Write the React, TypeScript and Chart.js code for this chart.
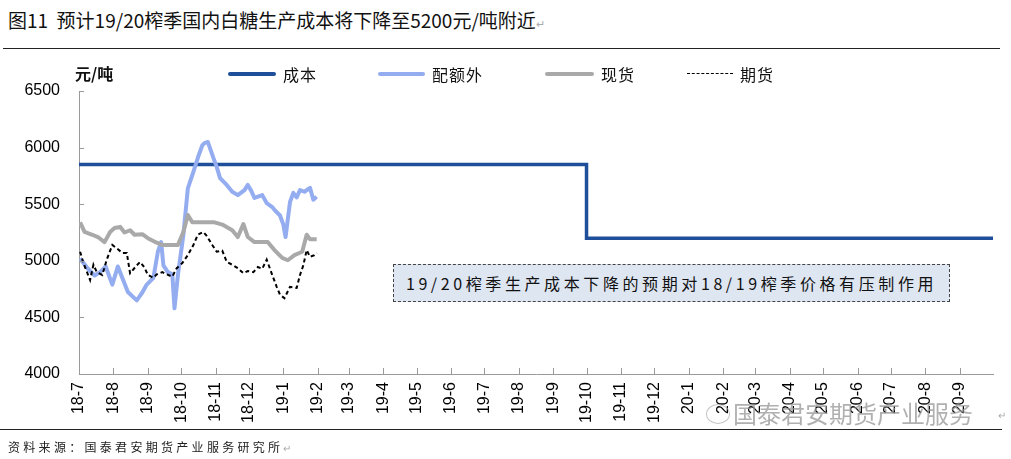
import React, { useEffect, useRef } from 'react';
import { Chart, registerables } from 'chart.js';

Chart.register(...registerables);

// Month tick labels (yy-m), axis runs to the start of 20-10
const tickLabels = ['18-7','18-8','18-9','18-10','18-11','18-12','19-1','19-2','19-3','19-4','19-5','19-6','19-7','19-8','19-9','19-10','19-11','19-12','20-1','20-2','20-3','20-4','20-5','20-6','20-7','20-8','20-9'];
const axisStartLabel = '18-7';
const axisEndLabel = '20-10';
const yMin = 4000;
const yMax = 6500;
const yStep = 500;

// 成本 (production cost) – step line
const costMonths = ['18-7', '19-10', '19-10', '20-10'];
const costValues = [5850, 5850, 5200, 5200];

// 配额外 – days since 2018-07-01
const quotaDays = [1,8,14,19,24,30,35,44,52,57,61,67,71,74,76,80,84,86,89,94,98,103,107,111,113,116,121,124,127,133,138,143,149,152,155,158,165,169,174,176,181,184,186,190,193,196,199,203,208,211,214];
const quotaValues = [5020,4930,4870,4900,4950,4790,4950,4725,4650,4720,4790,4850,5080,5165,4960,4900,4880,4580,4870,5230,5640,5785,5910,6020,6040,6050,5910,5830,5730,5670,5610,5580,5625,5670,5620,5555,5580,5510,5475,5450,5400,5320,5210,5520,5600,5560,5625,5610,5645,5540,5565];

// 现货
const spotDays = [1,5,12,17,23,28,32,37,41,46,50,57,62,70,75,82,89,94,98,102,113,122,129,138,143,148,152,158,170,176,183,188,194,201,205,208,214];
const spotValues = [5340,5255,5230,5210,5165,5255,5290,5300,5250,5270,5230,5235,5200,5160,5140,5140,5140,5255,5405,5340,5340,5340,5320,5270,5210,5325,5210,5165,5165,5095,5025,5005,5050,5080,5230,5190,5190];

// 期货
const futDays = [1,4,10,13,16,21,25,30,34,39,43,46,52,55,59,62,67,70,75,79,84,88,93,98,103,107,112,115,120,124,129,133,138,143,148,152,157,161,165,169,174,178,181,185,190,196,199,202,205,208,212,214];
const futValues = [5080,4980,4830,4965,4900,4875,5010,5140,5110,5070,5070,4890,4960,4990,4940,4875,4850,4880,4900,4880,4860,4935,4980,5050,5140,5230,5255,5220,5140,5080,5090,4990,4965,4935,4890,4910,4900,4945,4930,5010,4875,4770,4700,4670,4770,4760,4875,4960,5095,5035,5050,5070];

const baseUTC = (() => {
  const [yy, mm] = axisStartLabel.split('-').map(Number);
  return Date.UTC(2000 + yy, mm - 1, 1);
})();
const dayOf = (label: string) => {
  const [yy, mm] = label.split('-').map(Number);
  return Math.round((Date.UTC(2000 + yy, mm - 1, 1) - baseUTC) / 86400000);
};

const zip = (xs: number[], ys: number[]) => xs.map((x, i) => ({ x, y: ys[i] }));

const NUM_FONT = '"Liberation Sans", Arial, sans-serif';
const CJK_FONT = '"Noto Sans CJK SC", "Noto Sans", sans-serif';

const innerTicks = {
  id: 'innerTicks',
  afterDraw(chart: any) {
    const { ctx, chartArea, scales } = chart;
    ctx.save();
    ctx.strokeStyle = '#9a9a9a';
    ctx.lineWidth = 1;
    ctx.beginPath();
    scales.y.ticks.forEach((t: any) => {
      const y = Math.round(scales.y.getPixelForValue(t.value)) + 0.5;
      ctx.moveTo(chartArea.left, y);
      ctx.lineTo(chartArea.left + 5, y);
    });
    scales.x.ticks.forEach((t: any) => {
      const x = Math.round(scales.x.getPixelForValue(t.value)) + 0.5;
      ctx.moveTo(x, chartArea.bottom);
      ctx.lineTo(x, chartArea.bottom - 6);
    });
    ctx.stroke();
    ctx.restore();
  },
};

export default function App() {
  const canvasRef = useRef<HTMLCanvasElement | null>(null);

  useEffect(() => {
    document.body.style.margin = '0';
    const canvas = canvasRef.current;
    if (!canvas) return;
    const tickDays = tickLabels.map(dayOf);
    const chart = new Chart(canvas, {
      type: 'line',
      data: {
        datasets: [
          {
            label: '成本',
            data: zip(costMonths.map(dayOf), costValues),
            borderColor: '#1f4e9b',
            borderWidth: 3.5,
            pointRadius: 0,
            tension: 0,
            order: 4,
          },
          {
            label: '配额外',
            data: zip(quotaDays, quotaValues),
            borderColor: '#94acf0',
            borderWidth: 4,
            pointRadius: 0,
            tension: 0,
            borderJoinStyle: 'round',
            order: 3,
          },
          {
            label: '现货',
            data: zip(spotDays, spotValues),
            borderColor: '#a9a9a9',
            borderWidth: 4,
            pointRadius: 0,
            tension: 0,
            borderJoinStyle: 'round',
            order: 2,
          },
          {
            label: '期货',
            data: zip(futDays, futValues),
            borderColor: '#000000',
            borderWidth: 2,
            borderDash: [4, 3],
            pointRadius: 0,
            tension: 0,
            order: 1,
          },
        ],
      },
      options: {
        animation: false,
        responsive: false,
        maintainAspectRatio: false,
        events: [],
        layout: { padding: { left: 0, top: 91, right: 18, bottom: 25 } },
        plugins: { legend: { display: false }, tooltip: { enabled: false }, title: { display: false } },
        scales: {
          x: {
            type: 'linear',
            min: dayOf(axisStartLabel),
            max: dayOf(axisEndLabel),
            afterBuildTicks: (scale: any) => {
              scale.ticks = tickDays.map((v) => ({ value: v }));
            },
            afterFit: (scale: any) => {
              scale.height = 60;
            },
            ticks: {
              autoSkip: false,
              maxRotation: 90,
              minRotation: 90,
              padding: 8,
              color: '#000',
              font: { family: NUM_FONT, size: 16 },
              callback: (v: any) => {
                const i = tickDays.indexOf(Number(v));
                return i >= 0 ? tickLabels[i] : '';
              },
            },
            grid: { drawOnChartArea: false, drawTicks: false },
            border: { color: '#9a9a9a', width: 1 },
          },
          y: {
            min: yMin,
            max: yMax,
            afterFit: (scale: any) => {
              scale.width = 79;
            },
            ticks: {
              stepSize: yStep,
              padding: 19,
              color: '#000',
              font: { family: NUM_FONT, size: 16 },
              callback: (v: any) => String(v),
            },
            grid: { drawOnChartArea: false, drawTicks: false },
            border: { color: '#9a9a9a', width: 1 },
          },
        },
      },
      plugins: [innerTicks],
    } as any);
    return () => chart.destroy();
  }, []);

  const legendItems = [
    { label: '成本', color: '#1f4e9b', x: 228, w: 48, h: 4, dashed: false },
    { label: '配额外', color: '#94acf0', x: 378, w: 47, h: 4, dashed: false },
    { label: '现货', color: '#a9a9a9', x: 545, w: 49, h: 4, dashed: false },
    { label: '期货', color: '#000', x: 687, w: 46, h: 1.5, dashed: true },
  ];

  return (
    <div style={{ position: 'relative', width: 1011, height: 459, background: '#fff', overflow: 'hidden' }}>
      <div style={{ position: 'absolute', left: 8, top: 7, fontFamily: CJK_FONT, fontSize: 19, lineHeight: '26px', color: '#111', whiteSpace: 'nowrap' }}>
        图11&nbsp; 预计19/20榨季国内白糖生产成本将下降至5200元/吨附近<span style={{ color: '#aaa', fontSize: 11 }}>↵</span>
      </div>
      <div style={{ position: 'absolute', left: 3, top: 48, width: 997, height: 1, background: '#222' }} />
      <canvas ref={canvasRef} width={1011} height={459} style={{ position: 'absolute', left: 0, top: 0, width: 1011, height: 459 }} />
      <div style={{ position: 'absolute', left: 75, top: 62, fontFamily: CJK_FONT, fontSize: 16, fontWeight: 700, lineHeight: '22px', color: '#111' }}>元/吨</div>
      {legendItems.map((it) => (
        <React.Fragment key={it.label}>
          <div
            style={{
              position: 'absolute',
              left: it.x,
              top: 74 - it.h / 2,
              width: it.w,
              height: it.dashed ? 0 : it.h,
              background: it.dashed ? 'transparent' : it.color,
              borderTop: it.dashed ? `${it.h}px dashed ${it.color}` : 'none',
              borderRadius: it.dashed ? 0 : 2,
            }}
          />
          <div style={{ position: 'absolute', left: it.x + it.w + 7, top: 63, fontFamily: CJK_FONT, fontSize: 16, lineHeight: '22px', letterSpacing: 1, color: '#111', whiteSpace: 'nowrap' }}>{it.label}</div>
        </React.Fragment>
      ))}
      <div style={{ position: 'absolute', left: 393, top: 264, width: 555, height: 36, background: '#dee6f1', border: '1px dashed #444', display: 'flex', alignItems: 'center', justifyContent: 'center', fontFamily: CJK_FONT, fontSize: 16, letterSpacing: 3.6, color: '#111', whiteSpace: 'nowrap' }}>
        19/20榨季生产成本下降的预期对18/19榨季价格有压制作用
      </div>
      <div style={{ position: 'absolute', left: 706, top: 404, width: 22, height: 18, borderRadius: '50%', border: '1.5px solid rgba(170,170,170,0.7)' }} />
      <div style={{ position: 'absolute', left: 733, top: 397, fontFamily: CJK_FONT, fontSize: 24, lineHeight: '32px', color: 'rgba(150,150,150,0.75)', whiteSpace: 'nowrap' }}>
        国泰君安期货产业服务
      </div>
      <div style={{ position: 'absolute', left: 998, top: 410, fontSize: 10, color: '#aaa' }}>↵</div>
      <div style={{ position: 'absolute', left: 0, top: 429, width: 1002, height: 1, background: '#222' }} />
      <div style={{ position: 'absolute', left: 8, top: 438, fontFamily: CJK_FONT, fontSize: 12, lineHeight: '18px', letterSpacing: 3.3, color: '#222', whiteSpace: 'nowrap' }}>
        资料来源：国泰君安期货产业服务研究所<span style={{ color: '#aaa', fontSize: 10, letterSpacing: 0 }}>↵</span>
      </div>
    </div>
  );
}
